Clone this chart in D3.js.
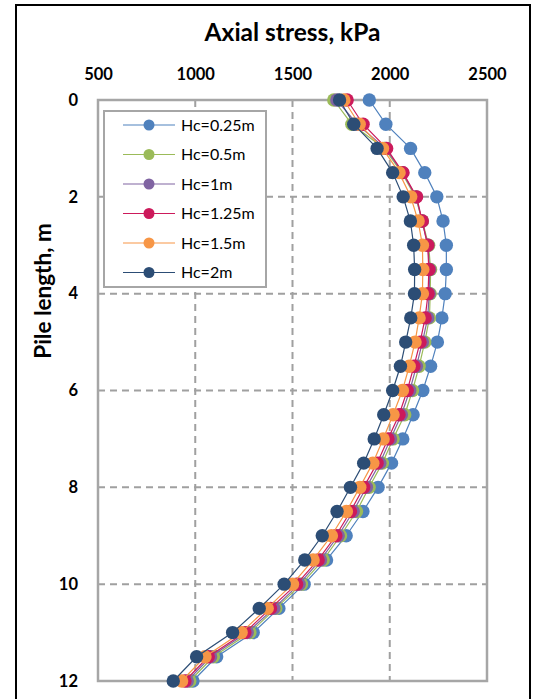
<!DOCTYPE html>
<html><head><meta charset="utf-8">
<script src="https://cdn.jsdelivr.net/npm/d3@7"></script>
<style>
html,body{margin:0;padding:0;background:#fff;}
text{font-family:Lato,"Open Sans",sans-serif;}
</style></head>
<body>
<svg id="chart" width="546" height="699"></svg>
<script>
const depths = [0,0.5,1,1.5,2,2.5,3,3.5,4,4.5,5,5.5,6,6.5,7,7.5,8,8.5,9,9.5,10,10.5,11,11.5,12];
const seriesNames = ["Hc=0.25m","Hc=0.5m","Hc=1m","Hc=1.25m","Hc=1.5m","Hc=2m"];
const hc025 = [1895,1980,2107,2180,2242,2274,2291,2291,2285,2268,2245,2210,2170,2120,2067,2009,1940,1862,1776,1675,1560,1430,1298,1110,988];
const hc05  = [1712,1805,1972,2062,2132,2168,2200,2210,2208,2204,2180,2151,2117,2077,2017,1962,1894,1829,1747,1658,1546,1414,1281,1093,972];
const hc1   = [1728,1832,1978,2066,2136,2166,2196,2205,2203,2195,2168,2137,2103,2060,2004,1949,1880,1812,1735,1644,1534,1404,1267,1079,959];
const hc125 = [1781,1863,1984,2068,2138,2167,2195,2201,2197,2182,2156,2124,2090,2048,1991,1935,1866,1798,1723,1632,1521,1387,1255,1067,947];
const hc15  = [1764,1843,1963,2048,2108,2146,2168,2170,2168,2151,2130,2100,2065,2017,1966,1913,1846,1777,1700,1606,1500,1370,1236,1050,930];
const hc2   = [1742,1815,1935,2015,2069,2106,2123,2128,2127,2108,2082,2055,2015,1969,1920,1866,1798,1729,1653,1563,1457,1329,1192,1007,887];
const colors = ["#4F81BD","#9BBB59","#8064A2","#CC1A5B","#F79646","#2C4D75"];
const xTicks = [500,1000,1500,2000,2500];
const yTicks = [0,2,4,6,8,10,12];
const title = "Axial stress, kPa";
const yTitle = "Pile length, m";

const allSeries = [hc025,hc05,hc1,hc125,hc15,hc2];
const svg = d3.select("#chart");
const M = {left:98, top:100, right:487, bottom:681};

// outer frame
svg.append("rect").attr("x",16).attr("y",5).attr("width",514).attr("height",710)
  .attr("fill","none").attr("stroke","#000").attr("stroke-width",2);

const x = d3.scaleLinear().domain([500,2500]).range([M.left,M.right]);
const y = d3.scaleLinear().domain([0,12]).range([M.top,M.bottom]);

// gridlines
svg.append("g").selectAll("line").data(xTicks.slice(1,-1)).join("line")
  .attr("x1",d=>x(d)).attr("x2",d=>x(d)).attr("y1",M.top).attr("y2",M.bottom)
  .attr("stroke","#a0a0a0").attr("stroke-width",2).attr("stroke-dasharray","7,5");
svg.append("g").selectAll("line").data(yTicks.slice(1,-1)).join("line")
  .attr("y1",d=>y(d)).attr("y2",d=>y(d)).attr("x1",M.left).attr("x2",M.right)
  .attr("stroke","#a0a0a0").attr("stroke-width",2).attr("stroke-dasharray","7,5");

// plot border
svg.append("rect").attr("x",M.left).attr("y",M.top).attr("width",M.right-M.left).attr("height",M.bottom-M.top)
  .attr("fill","none").attr("stroke","#a6a6a6").attr("stroke-width",2.5);

// axes
const gx = svg.append("g").attr("transform",`translate(0,${M.top})`)
  .call(d3.axisTop(x).tickValues(xTicks).tickFormat(d3.format("d")).tickSize(0).tickPadding(20));
gx.select(".domain").remove();
gx.selectAll("text").attr("font-size",16.5).attr("font-weight","bold").attr("fill","#000")
  .style("font-family","Lato");
const gy = svg.append("g").attr("transform",`translate(${M.left},0)`)
  .call(d3.axisLeft(y).tickValues(yTicks).tickFormat(d3.format("d")).tickSize(0).tickPadding(20));
gy.select(".domain").remove();
gy.selectAll("text").attr("font-size",16.5).attr("font-weight","bold").attr("fill","#000")
  .style("font-family","Lato");

// titles
svg.append("text").attr("x",(M.left+M.right)/2).attr("y",41).attr("text-anchor","middle")
  .attr("font-size",24.5).attr("font-weight","bold").text(title);
svg.append("text").attr("transform","translate(51,291) rotate(-90)").attr("text-anchor","middle")
  .attr("font-size",22.5).attr("font-weight","bold").text(yTitle);

// series
const line = d3.line().x(d=>x(d.v)).y(d=>y(d.d));
allSeries.forEach((vals,i)=>{
  const pts = vals.map((v,k)=>({v:v,d:depths[k]}));
  const g = svg.append("g");
  g.append("path").datum(pts).attr("d",line).attr("fill","none")
    .attr("stroke",colors[i]).attr("stroke-width",1.2);
  g.selectAll("circle").data(pts).join("circle")
    .attr("cx",d=>x(d.v)).attr("cy",d=>y(d.d)).attr("r",6.7).attr("fill",colors[i]);
});

// legend
const lg = svg.append("g");
lg.append("rect").attr("x",104).attr("y",111).attr("width",162).attr("height",176)
  .attr("fill","#fff").attr("stroke","#a6a6a6").attr("stroke-width",2);
seriesNames.forEach((n,i)=>{
  const yy = 125 + i*29.5;
  lg.append("line").attr("x1",123).attr("x2",175).attr("y1",yy).attr("y2",yy)
    .attr("stroke",colors[i]).attr("stroke-width",1.2);
  lg.append("circle").attr("cx",149).attr("cy",yy).attr("r",5.5).attr("fill",colors[i]);
  lg.append("text").attr("x",181).attr("y",yy).attr("dy","0.36em").attr("font-size",16).text(n);
});
</script>
</body></html>
